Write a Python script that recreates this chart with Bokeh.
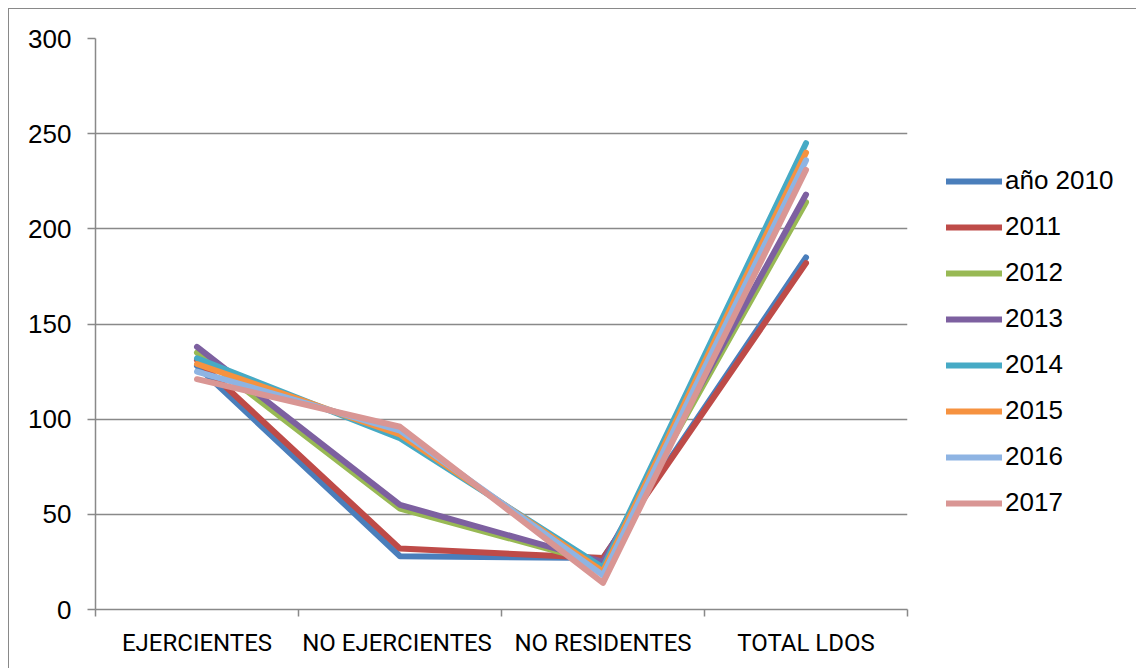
from bokeh.plotting import figure
from bokeh.models import Range1d, FixedTicker, Legend, LegendItem
from bokeh.embed import file_html
from bokeh.resources import INLINE

categories = ["EJERCIENTES", "NO  EJERCIENTES", "NO RESIDENTES", "TOTAL LDOS"]
series_names = ["año 2010", "2011", "2012", "2013", "2014", "2015", "2016", "2017"]
v2010 = [128, 28, 27, 185]
v2011 = [131, 32, 27, 182]
v2012 = [135, 53, 24, 214]
v2013 = [138, 55, 25, 218]
v2014 = [132, 90, 22, 245]
v2015 = [129, 92, 20, 240]
v2016 = [125, 94, 18, 236]
v2017 = [121, 96, 14, 231]
series_values = [v2010, v2011, v2012, v2013, v2014, v2015, v2016, v2017]
colors = ["#4A7EBB", "#BE4B48", "#98B954", "#7D60A0", "#46AAC5", "#F69240", "#8EB4E3", "#D99694"]
y_ticks = [0, 50, 100, 150, 200, 250, 300]

GRAY = "#898989"

p = figure(width=1127, height=659, output_backend="svg", toolbar_location=None,
           x_range=Range1d(0, len(categories)), y_range=Range1d(0, 300),
           frame_width=812, frame_height=571,
           min_border_left=86, min_border_right=229, min_border_top=29, min_border_bottom=59)
p.styles = {"margin-left": "8px", "margin-top": "8px",
            "border-left": "1px solid " + GRAY, "border-top": "1px solid " + GRAY}
p.outline_line_color = None
p.background_fill_color = "white"
p.border_fill_color = "white"

xs = [i + 0.5 for i in range(len(categories))]

items = []
for name, vals, col in zip(series_names, series_values, colors):
    r = p.line(xs, vals, line_color=col, line_width=6, line_join="round", line_cap="round")
    items.append(LegendItem(label=name, renderers=[r]))

# x axis
p.xaxis.ticker = FixedTicker(ticks=xs, minor_ticks=list(range(len(categories) + 1)))
p.xaxis.major_label_overrides = {x: c for x, c in zip(xs, categories)}
p.xaxis.major_tick_line_color = None
p.xaxis.major_tick_out = 0
p.xaxis.major_tick_in = 0
p.xaxis.minor_tick_line_color = GRAY
p.xaxis.minor_tick_line_width = 1.5
p.xaxis.minor_tick_out = 7
p.xaxis.minor_tick_in = 0
p.xaxis.axis_line_color = GRAY
p.xaxis.axis_line_width = 1.5
p.xaxis.major_label_text_font = "Roboto"
p.xaxis.major_label_text_font_size = "24px"
p.xaxis.major_label_text_color = "black"
p.xaxis.major_label_standoff = 12

# y axis
p.yaxis.ticker = FixedTicker(ticks=y_ticks)
p.yaxis.minor_tick_line_color = None
p.yaxis.major_tick_out = 8
p.yaxis.major_tick_in = 0
p.yaxis.major_tick_line_color = GRAY
p.yaxis.major_tick_line_width = 1.5
p.yaxis.axis_line_color = GRAY
p.yaxis.axis_line_width = 1.5
p.yaxis.major_label_text_font = "Liberation Sans"
p.yaxis.major_label_text_font_size = "26px"
p.yaxis.major_label_text_color = "black"
p.yaxis.major_label_standoff = 16

p.xgrid.grid_line_color = None
p.ygrid.grid_line_color = GRAY
p.ygrid.grid_line_width = 1.5

legend = Legend(items=items, location=(39, 91), padding=0, margin=0,
                border_line_color=None, background_fill_alpha=0,
                glyph_width=56, glyph_height=20, label_height=20, spacing=15,
                label_standoff=3, label_text_font="Liberation Sans",
                label_text_font_size="26px", label_text_color="black",
                label_text_baseline="middle")
p.add_layout(legend, "right")

open("out.html", "w").write(file_html(p, INLINE))
